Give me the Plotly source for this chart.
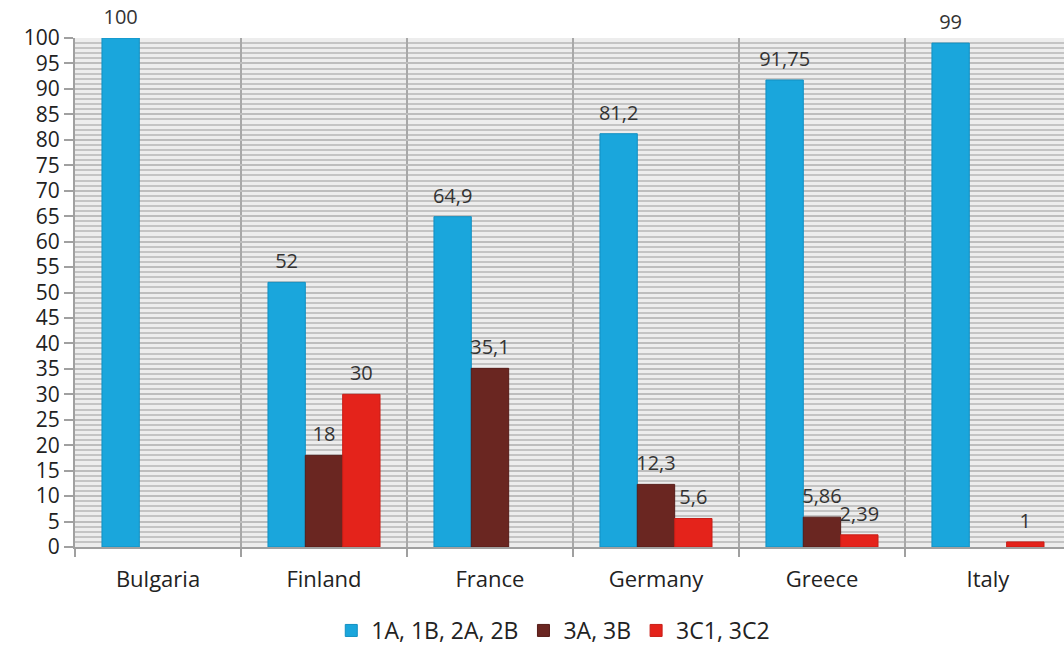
import plotly.graph_objects as go

countries = ["Bulgaria", "Finland", "France", "Germany", "Greece", "Italy"]
series_names = ["1A, 1B, 2A, 2B", "3A, 3B", "3C1, 3C2"]
vals_1 = [100, 52, 64.9, 81.2, 91.75, 99]
vals_2 = [None, 18, 35.1, 12.3, 5.86, None]
vals_3 = [None, 30, None, 5.6, 2.39, 1]
colors = ["#1AA6DC", "#6A2621", "#E4231B"]
line_colors = ["#1390C2", "#561C18", "#C81E17"]


def fmt(v):
    if v is None:
        return ""
    return ("%g" % v).replace(".", ",")


fig = go.Figure()
for i, (name, vals, c, lc) in enumerate(zip(series_names, [vals_1, vals_2, vals_3], colors, line_colors)):
    fig.add_trace(go.Bar(
        x=countries, y=vals, name=name, offsetgroup=str(i),
        marker=dict(color=c, line=dict(color=lc, width=1)),
    ))
for i, vals in enumerate([vals_1, vals_2, vals_3]):
    fig.add_trace(go.Scatter(
        x=countries, y=vals, mode="markers+text", offsetgroup=str(i),
        marker=dict(size=13, opacity=0),
        text=[fmt(v) for v in vals], textposition="top center",
        textfont=dict(size=20, color="#333333", family="Open Sans, sans-serif"),
        cliponaxis=False, showlegend=False, hoverinfo="skip",
    ))

fig.update_layout(
    width=1064, height=652,
    margin=dict(l=75, r=0, t=38, b=105),
    paper_bgcolor="white",
    plot_bgcolor="#EDEDED",
    barmode="group", bargap=0.325, bargroupgap=0,
    scattermode="group", scattergap=0.325,
    font=dict(family="Open Sans, sans-serif", size=21, color="#222222"),
    legend=dict(orientation="h", xref="container", x=0.52, xanchor="center",
                yref="container", y=-0.008, yanchor="bottom",
                font=dict(size=23, color="#222222"), itemwidth=30,
                traceorder="normal"),
)
fig.update_yaxes(
    range=[0, 100], dtick=5, tick0=0,
    showgrid=True, gridcolor="#BDBDBD", gridwidth=2,
    minor=dict(dtick=1, showgrid=True, gridcolor="#C4C4C4", gridwidth=2),
    showline=True, linecolor="#A0A0A0", linewidth=2,
    ticks="outside", ticklen=9, tickcolor="#A0A0A0", tickwidth=2,
    tickfont=dict(size=21, color="#222222"),
    zeroline=False,
)
fig.update_xaxes(
    range=[-0.5, 5.458],
    tickson="boundaries", showgrid=True, gridcolor="#A8A8A8", gridwidth=2,
    showline=True, linecolor="#A0A0A0", linewidth=2,
    ticks="outside", ticklen=8, tickcolor="#A0A0A0", tickwidth=2,
    tickfont=dict(size=22, color="#222222"),
    ticklabelstandoff=12,
)

fig.write_html("out.html", config={"displayModeBar": False},
               post_script="document.body.style.margin='0';document.body.style.overflow='hidden';")
